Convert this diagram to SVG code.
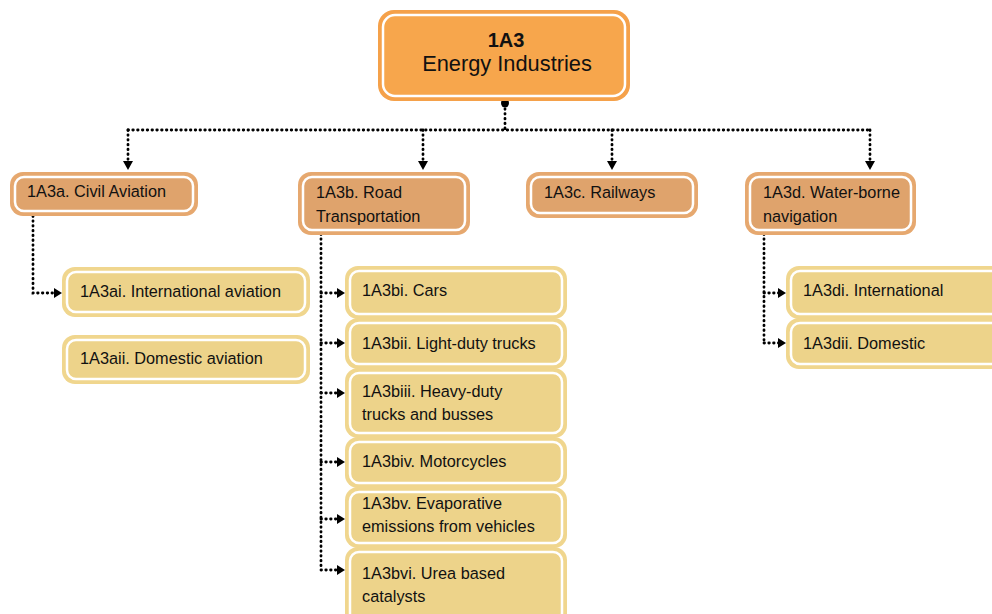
<svg xmlns="http://www.w3.org/2000/svg" width="992" height="614" viewBox="0 0 992 614">
  <style>
    text { font-family: "Liberation Sans", Arial, sans-serif; fill: #111; }
    .t { font-size: 16.3px; }
    .root-o { fill: #F5A14A; }
    .root-i { fill: #F7A64C; stroke: #fff; stroke-width: 2.5; }
    .l2-o { fill: #E6A86F; }
    .l2-i { fill: #DFA36C; stroke: #fff; stroke-width: 2.5; }
    .l3-o { fill: #F0D68E; }
    .l3-i { fill: #EDD38A; stroke: #fff; stroke-width: 2.5; }
    .dot { fill: none; stroke: #000; stroke-width: 2.8; stroke-linecap: round; stroke-dasharray: 0.5 4.3; }
  </style>
  <defs>
    <marker id="arr" viewBox="0 0 10 10" refX="9" refY="5" markerWidth="10" markerHeight="10" markerUnits="userSpaceOnUse" orient="auto">
      <path d="M0,0 L10,5 L0,10 Z" fill="#000"/>
    </marker>
  </defs>

  <!-- connectors -->
  <g id="connectors">
    <ellipse cx="505" cy="103" rx="4" ry="4.5" fill="#000"/>
    <path class="dot" d="M505,104 V130 M128,130 H870"/>
    <path class="dot" d="M128,130 V162"/>
    <path class="dot" d="M423,130 V162"/>
    <path class="dot" d="M612,130 V162"/>
    <path class="dot" d="M870,130 V162"/>
    <path d="M123,161 H133 L128,170 Z M418,161 H428 L423,170 Z M607,161 H617 L612,170 Z M865,161 H875 L870,170 Z" fill="#000"/>

    <path class="dot" d="M33,216 V293 H55"/>

    <path class="dot" d="M321,234 V570"/>
    <path class="dot" d="M321,293 H338 M321,343 H338 M321,393 H338 M321,462 H338 M321,519 H338 M321,570 H338"/>

    <path class="dot" d="M764,234 V343"/>
    <path class="dot" d="M764,293 H779 M764,343 H779"/>

    <path d="M54,288 L62,293 L54,298 Z
             M337,288 L345,293 L337,298 Z M337,338 L345,343 L337,348 Z M337,388 L345,393 L337,398 Z
             M337,457 L345,462 L337,467 Z M337,514 L345,519 L337,524 Z M337,565 L345,570 L337,575 Z
             M778,288 L786,293 L778,298 Z M778,338 L786,343 L778,348 Z" fill="#000"/>
  </g>

  <!-- root -->
  <g id="n1A3">
    <rect class="root-o" x="378" y="10" width="252" height="91" rx="16"/>
    <rect class="root-i" x="383" y="15" width="242" height="81" rx="12"/>
    <text x="506" y="47" text-anchor="middle" font-size="20" font-weight="bold">1A3</text>
    <text x="507" y="71" text-anchor="middle" font-size="21.8">Energy Industries</text>
  </g>

  <!-- level 2 -->
  <g id="n1A3a">
    <rect class="l2-o" x="10" y="172" width="188" height="44" rx="13"/>
    <rect class="l2-i" x="15" y="177" width="178" height="34" rx="9"/>
    <text class="t" x="27" y="197">1A3a. Civil Aviation</text>
  </g>
  <g id="n1A3b">
    <rect class="l2-o" x="298" y="172" width="172" height="63" rx="13"/>
    <rect class="l2-i" x="303" y="177" width="162" height="53" rx="9"/>
    <text class="t" x="316" y="198">1A3b. Road</text>
    <text class="t" x="316" y="222">Transportation</text>
  </g>
  <g id="n1A3c">
    <rect class="l2-o" x="526" y="172" width="172" height="46" rx="13"/>
    <rect class="l2-i" x="531" y="177" width="162" height="36" rx="9"/>
    <text class="t" x="544" y="198">1A3c. Railways</text>
  </g>
  <g id="n1A3d">
    <rect class="l2-o" x="745" y="172" width="171" height="63" rx="13"/>
    <rect class="l2-i" x="750" y="177" width="161" height="53" rx="9"/>
    <text class="t" x="763" y="198">1A3d. Water-borne</text>
    <text class="t" x="763" y="222">navigation</text>
  </g>

  <!-- level 3: aviation -->
  <g id="n1A3ai">
    <rect class="l3-o" x="62" y="267" width="248" height="50" rx="13"/>
    <rect class="l3-i" x="67" y="272" width="238" height="40" rx="9"/>
    <text class="t" x="80" y="297">1A3ai. International aviation</text>
  </g>
  <g id="n1A3aii">
    <rect class="l3-o" x="62" y="335" width="248" height="49" rx="13"/>
    <rect class="l3-i" x="67" y="340" width="238" height="39" rx="9"/>
    <text class="t" x="80" y="364">1A3aii. Domestic aviation</text>
  </g>

  <!-- level 3: road -->
  <g id="n1A3bi">
    <rect class="l3-o" x="345" y="266" width="222" height="53" rx="13"/>
    <rect class="l3-i" x="350" y="271" width="212" height="43" rx="9"/>
    <text class="t" x="362" y="296">1A3bi. Cars</text>
  </g>
  <g id="n1A3bii">
    <rect class="l3-o" x="345" y="318" width="222" height="51" rx="13"/>
    <rect class="l3-i" x="350" y="323" width="212" height="41" rx="9"/>
    <text class="t" x="362" y="349">1A3bii. Light-duty trucks</text>
  </g>
  <g id="n1A3biii">
    <rect class="l3-o" x="345" y="368" width="222" height="70" rx="13"/>
    <rect class="l3-i" x="350" y="373" width="212" height="60" rx="9"/>
    <text class="t" x="362" y="397">1A3biii. Heavy-duty</text>
    <text class="t" x="362" y="420">trucks and busses</text>
  </g>
  <g id="n1A3biv">
    <rect class="l3-o" x="345" y="437" width="222" height="51" rx="13"/>
    <rect class="l3-i" x="350" y="442" width="212" height="41" rx="9"/>
    <text class="t" x="362" y="467">1A3biv. Motorcycles</text>
  </g>
  <g id="n1A3bv">
    <rect class="l3-o" x="345" y="487" width="222" height="61" rx="13"/>
    <rect class="l3-i" x="350" y="492" width="212" height="51" rx="9"/>
    <text class="t" x="362" y="509">1A3bv. Evaporative</text>
    <text class="t" x="362" y="532">emissions from vehicles</text>
  </g>
  <g id="n1A3bvi">
    <rect class="l3-o" x="345" y="547" width="222" height="80" rx="13"/>
    <rect class="l3-i" x="350" y="552" width="212" height="70" rx="9"/>
    <text class="t" x="362" y="579">1A3bvi. Urea based</text>
    <text class="t" x="362" y="602">catalysts</text>
  </g>

  <!-- level 3: water-borne -->
  <g id="n1A3di">
    <rect class="l3-o" x="786" y="266" width="230" height="53" rx="13"/>
    <rect class="l3-i" x="791" y="271" width="220" height="43" rx="9"/>
    <text class="t" x="803" y="296">1A3di. International</text>
  </g>
  <g id="n1A3dii">
    <rect class="l3-o" x="786" y="318" width="230" height="51" rx="13"/>
    <rect class="l3-i" x="791" y="323" width="220" height="41" rx="9"/>
    <text class="t" x="803" y="349">1A3dii. Domestic</text>
  </g>
</svg>
